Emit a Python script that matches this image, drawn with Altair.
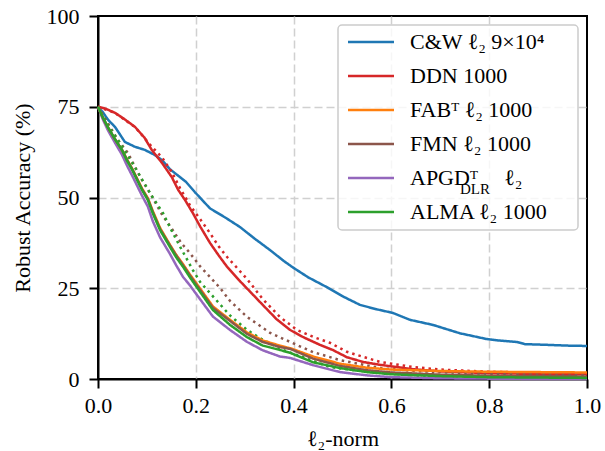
import altair as alt
import pandas as pd

# ---- labels and colours ----
LABELS = ["C&W ℓ₂ 9×10⁴", "DDN 1000", "FABᵀ ℓ₂ 1000", "FMN ℓ₂ 1000",
          "APGDᵀ\u2002\u2002\u2009ℓ₂", "ALMA ℓ₂ 1000"]
COLORS = ["#1f77b4", "#d62728", "#ff7f0e", "#8c564b", "#9467bd", "#2ca02c"]

# ---- C&W ----
CW_X = [0, 0.01, 0.02, 0.035, 0.055, 0.075, 0.096, 0.115, 0.131, 0.147, 0.164, 0.18, 0.198,
        0.229, 0.26, 0.29, 0.32, 0.352, 0.38, 0.4, 0.43, 0.468, 0.5, 0.536, 0.57, 0.603,
        0.638, 0.685, 0.74, 0.795, 0.82, 0.857, 0.873, 0.92, 0.96, 1.0]
CW_Y = [75, 73.5, 71.5, 69.4, 65.3, 64, 63.1, 61.8, 60.3, 57.8, 56, 54.3, 51.5,
        47, 44.5, 41.9, 38.7, 35.5, 32.5, 30.6, 28, 25.3, 22.8, 20.4, 19.2, 18.2,
        16.3, 14.9, 12.6, 11, 10.6, 10.2, 9.6, 9.4, 9.2, 9.1]

# ---- DDN (solid) ----
DDN_X = [0, 0.015, 0.035, 0.055, 0.076, 0.095, 0.11, 0.131, 0.151, 0.164, 0.178, 0.194,
         0.209, 0.229, 0.247, 0.264, 0.29, 0.315, 0.337, 0.365, 0.393, 0.42, 0.454, 0.48,
         0.509, 0.542, 0.577, 0.644, 0.7, 0.8, 0.9, 1.0]
DDN_Y = [75, 74.5, 73.3, 71.5, 69.4, 66.5, 63.1, 59.5, 55.6, 52.1, 49.3, 45.7,
         42, 37.5, 34, 30.9, 27, 23.5, 20.4, 16.5, 13.5, 11.5, 9.4, 8,
         6, 4.7, 3.9, 2.7, 2.1, 1.6, 1.4, 1.3]

# ---- DDN (dotted) ----
DDN2_X = [0, 0.035, 0.076, 0.11, 0.131, 0.151, 0.168, 0.188, 0.209, 0.229, 0.247, 0.264,
          0.285, 0.305, 0.337, 0.372, 0.407, 0.44, 0.474, 0.509, 0.542, 0.577, 0.644,
          0.7, 0.8, 0.9, 1.0]
DDN2_Y = [75, 73.3, 69.4, 64, 61, 57, 52.5, 47.9, 44, 40.2, 36.5, 33.6,
          30.5, 27.5, 22, 17.1, 13.5, 11.6, 10.0, 7.5, 6.1, 4.7, 3.3,
          2.6, 2.0, 1.7, 1.5]

# ---- FMN (dotted) ----
FMN2_X = [0, 0.02, 0.04, 0.061, 0.076, 0.09, 0.11, 0.13, 0.153, 0.17, 0.188, 0.209, 0.229,
          0.25, 0.27, 0.305, 0.352, 0.393, 0.44, 0.495, 0.54, 0.577, 0.65, 0.75, 0.85, 1.0]
FMN2_Y = [75, 70.5, 66, 62.3, 58.4, 54.8, 50.4, 45.5, 41, 37.5, 34.7, 31, 28.1,
          25, 21.5, 17.1, 12.7, 10.2, 7.4, 5.2, 4, 3, 2.2, 1.6, 1.3, 1.0]

# ---- common x grid for the close cluster ----
CL_X = [0, 0.01, 0.02, 0.035, 0.049, 0.06, 0.07, 0.09, 0.102, 0.112, 0.127, 0.147, 0.16,
        0.174, 0.188, 0.202, 0.235, 0.27, 0.305, 0.337, 0.372, 0.393, 0.44, 0.495, 0.55,
        0.6, 0.7, 0.8, 0.9, 1.0]
ALMA_Y = [75, 72, 69.4, 66, 63.1, 60, 57.6, 52.1, 49.3, 45.7, 41, 36.4, 33.5,
          30.9, 28, 25.3, 19, 14.9, 11.5, 9.2, 8.0, 7.2, 4.6, 3.0, 1.9,
          1.3, 0.8, 0.5, 0.4, 0.3]
FAB_Y = [75, 72, 69.4, 66, 63.1, 60.3, 57.9, 52.5, 49.8, 46.3, 41.6, 37, 34.2,
         31.6, 28.8, 26.2, 20, 16.3, 12.8, 10.6, 9.2, 8.5, 6.2, 4.2, 3.1,
         2.6, 2.2, 2.0, 1.9, 1.8]
FMN_Y = [75, 72, 69.4, 66, 63.1, 60.2, 57.8, 52.3, 49.6, 46, 41.3, 36.8, 34,
         31.3, 28.5, 25.8, 19.6, 16, 12.4, 10.2, 8.8, 8.3, 5.6, 3.6, 2.4,
         1.8, 1.2, 0.9, 0.8, 0.7]
APGD_Y = [75, 71.5, 68.6, 65, 61.8, 58.6, 56, 50.5, 47.5, 43.5, 39, 34.5, 31.3,
          28.1, 25.8, 23.2, 17.2, 13.5, 10.2, 7.9, 6.2, 5.8, 3.8, 1.9, 1.0,
          0.5, 0.2, 0.1, 0, 0]

# ---- ALMA (dotted) ----
ALMA2_X = [0, 0.02, 0.045, 0.07, 0.09, 0.112, 0.133, 0.15, 0.168, 0.194, 0.209, 0.25, 0.27,
           0.305, 0.337, 0.378, 0.44, 0.474, 0.52, 0.577, 0.65, 0.75, 0.85, 1.0]
ALMA2_Y = [75, 70, 65, 59.5, 55, 50, 45.7, 41, 36.4, 30, 26.7, 20.5, 17.5,
           13.5, 10.8, 8, 5, 3.3, 2.5, 1.7, 1.0, 0.6, 0.4, 0.3]

X_TICKS = [0.0, 0.2, 0.4, 0.6, 0.8, 1.0]
Y_TICKS = [0, 25, 50, 75, 100]

series = [
    (LABELS[0], "solid", CW_X, CW_Y),
    (LABELS[1], "dotted", DDN2_X, DDN2_Y),
    (LABELS[1], "solid", DDN_X, DDN_Y),
    (LABELS[3], "dotted", FMN2_X, FMN2_Y),
    (LABELS[5], "dotted", ALMA2_X, ALMA2_Y),
    (LABELS[4], "solid", CL_X, APGD_Y),
    (LABELS[2], "solid", CL_X, FAB_Y),
    (LABELS[3], "solid", CL_X, FMN_Y),
    (LABELS[5], "solid", CL_X, ALMA_Y),
]
rows = []
for k, (name, style, xs, ys) in enumerate(series):
    for i, (x, y) in enumerate(zip(xs, ys)):
        rows.append({"method": name, "style": style, "x": x, "y": y, "grp": k, "i": i})
df = pd.DataFrame(rows)

FONT = "Liberation Serif"
GRID = "#d0d0d0"

lines = alt.Chart(df).mark_line(strokeWidth=2.5, strokeCap="butt").encode(
    x=alt.X("x:Q", scale=alt.Scale(domain=[0, 1], nice=False),
            axis=alt.Axis(values=X_TICKS, format=".1f", title="ℓ₂-norm",
                          titleX=244.5, titleY=59, titleBaseline="middle",
                          labelPadding=7, labelFlush=False,
                          gridColor={"condition": {"test": "datum.value <= 0 || datum.value >= 1",
                                                   "value": "transparent"},
                                     "value": GRID})),
    y=alt.Y("y:Q", scale=alt.Scale(domain=[0, 100], nice=False),
            axis=alt.Axis(values=Y_TICKS, title="Robust Accuracy (%)",
                          titleX=-76, titleY=181.5, titleAngle=270,
                          titleBaseline="middle", titleAlign="center",
                          labelPadding=10,
                          gridColor={"condition": {"test": "datum.value <= 0 || datum.value >= 100",
                                                   "value": "transparent"},
                                     "value": GRID})),
    color=alt.Color("method:N", scale=alt.Scale(domain=LABELS, range=COLORS),
                    legend=alt.Legend(orient="none", legendX=260, legendY=13,
                                      title=None, symbolType="M-2,0H2",
                                      symbolSize=529, symbolStrokeWidth=2.5,
                                      labelFont=FONT, labelFontSize=22,
                                      labelColor="black", labelOffset=26,
                                      rowPadding=10, padding=0,
                                      labelLimit=400)),
    strokeDash=alt.StrokeDash("style:N",
                              scale=alt.Scale(domain=["solid", "dotted"],
                                              range=[[1, 0], [2.5, 4]]),
                              legend=None),
    detail="grp:N",
    order="i:Q",
)

box = alt.Chart(pd.DataFrame({"a": [0]})).mark_rect(
    fill="white", fillOpacity=0.8, stroke="#cccccc", strokeWidth=1.5, cornerRadius=4
).encode(x=alt.value(240), x2=alt.value(480), y=alt.value(9), y2=alt.value(214))

sub = alt.Chart(pd.DataFrame({"t": ["DLR"]})).mark_text(
    font=FONT, fontSize=15, align="left", baseline="alphabetic", color="black"
).encode(text="t:N", x=alt.value(362), y=alt.value(178))

chart = alt.layer(box, lines, sub).properties(
    width=489, height=363,
    autosize=alt.AutoSizeParams(type="none"),
    padding={"left": 98, "top": 16, "right": 18, "bottom": 72},
).configure_view(stroke="black", strokeWidth=2).configure_axis(
    grid=True, gridDash=[8, 4], gridWidth=1.5,
    domainColor="black", domainWidth=2, tickColor="black", tickWidth=2, tickSize=9,
    labelFont=FONT, labelFontSize=22, labelColor="black",
    titleFont=FONT, titleFontSize=22, titleColor="black", titleFontWeight="normal",
)

chart.save("out.html", embed_options={"renderer": "svg", "actions": False})
